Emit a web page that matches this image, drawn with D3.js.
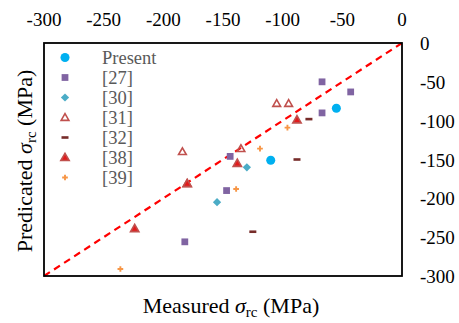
<!DOCTYPE html>
<html lang="en">
<head>
<meta charset="UTF-8">
<title>Measured vs predicted</title>
<script src="https://d3js.org/d3.v7.min.js"></script>
<style>
  body { margin: 0; background: #fff; }
  text { font-family: "Liberation Serif", "Times New Roman", serif; }
</style>
</head>
<body>
<svg id="chart" width="459" height="323"></svg>
<script>
// data: [measured, predicted] in MPa
const present = [[-55, -84], [-110, -151]];
const ref27 = [[-67, -50], [-43, -63], [-67, -90], [-144, -146], [-147, -190], [-182, -256]];
const ref30 = [[-130, -160], [-155, -205]];
const ref31 = [[-105, -78], [-95, -78], [-135, -136], [-184, -140], [-180, -181]];
const ref32 = [[-78, -98], [-88, -150], [-125, -243]];
const ref38 = [[-88, -99], [-138, -155], [-180, -181], [-224, -239]];
const ref39 = [[-96, -109], [-119, -136], [-139, -188], [-236, -291]];
const legendLabels = ["Present", "[27]", "[30]", "[31]", "[32]", "[38]", "[39]"];
const xTicks = [-300, -250, -200, -150, -100, -50, 0];
const yTicks = [0, -50, -100, -150, -200, -250, -300];

const svg = d3.select("#chart");
const plotLeft = 44, plotRight = 402, plotTop = 43, plotBottom = 276;

const x = d3.scaleLinear().domain([-300, 0]).range([plotLeft, plotRight]);
const y = d3.scaleLinear().domain([0, -300]).range([plotTop, plotBottom]);

// series styles
const series = [
  { data: present, kind: "circle", fill: "#00B0F0", stroke: "none" },
  { data: ref27, kind: "square", fill: "#8064A2", stroke: "none" },
  { data: ref30, kind: "diamond", fill: "#4BACC6", stroke: "none" },
  { data: ref31, kind: "triangle", fill: "none", stroke: "#C0504D" },
  { data: ref32, kind: "dash", fill: "#772C2A", stroke: "none" },
  { data: ref38, kind: "triangle", fill: "#E31A1C", stroke: "#C0504D" },
  { data: ref39, kind: "plus", fill: "#F79646", stroke: "none" }
];

function drawMarker(g, s) {
  if (s.kind === "dash") {
    g.append("rect").attr("x", -3.5).attr("y", -1.3).attr("width", 7).attr("height", 2.6)
      .attr("fill", s.fill);
    return;
  }
  let sym, rot = null;
  if (s.kind === "circle") sym = d3.symbol(d3.symbolCircle, 64);
  if (s.kind === "square") sym = d3.symbol(d3.symbolSquare, 46);
  if (s.kind === "diamond") { sym = d3.symbol(d3.symbolSquare, 34); rot = "rotate(45)"; }
  if (s.kind === "triangle") { sym = d3.symbol(d3.symbolTriangle, s.fill === "none" ? 26 : 30); rot = "translate(0,0.6)"; }
  if (s.kind === "plus") sym = d3.symbol(d3.symbolCross, 18);
  g.append("path").attr("d", sym())
    .attr("fill", s.fill)
    .attr("stroke", s.stroke)
    .attr("stroke-width", s.kind === "triangle" ? 1.6 : 0)
    .attr("transform", rot);
}

// 1:1 line
svg.append("line")
  .attr("x1", x(-300)).attr("y1", y(-300))
  .attr("x2", x(0)).attr("y2", y(0))
  .attr("stroke", "#FF0000").attr("stroke-width", 2.2)
  .attr("stroke-dasharray", "7,5");

// points
series.forEach(function (s) {
  s.data.forEach(function (d) {
    const g = svg.append("g").attr("transform", "translate(" + x(d[0]) + "," + y(d[1]) + ")");
    drawMarker(g, s);
  });
});

// frame
svg.append("rect")
  .attr("x", plotLeft).attr("y", plotTop)
  .attr("width", plotRight - plotLeft).attr("height", plotBottom - plotTop)
  .attr("fill", "none").attr("stroke", "#000").attr("stroke-width", 1.8);

// top tick labels
svg.selectAll(".xt").data(xTicks).enter().append("text")
  .attr("x", function (d) { return x(d); })
  .attr("y", 26)
  .attr("text-anchor", "middle")
  .attr("font-size", 19)
  .text(function (d) { return d; });

// right tick labels
svg.selectAll(".yt").data(yTicks).enter().append("text")
  .attr("x", 420)
  .attr("y", function (d) { return y(d) + 7; })
  .attr("font-size", 19)
  .text(function (d) { return d; });

// legend
const legend = svg.append("g");
legendLabels.forEach(function (lab, i) {
  const row = legend.append("g").attr("transform", "translate(65," + (57.5 + i * 20) + ")");
  drawMarker(row, series[i]);
  row.append("text").attr("x", 37).attr("y", 6)
    .attr("font-size", 18.5).attr("fill", "#595959").text(lab);
});

// axis titles
const xt = svg.append("text")
  .attr("x", 231).attr("y", 313)
  .attr("text-anchor", "middle")
  .attr("font-size", 22);
xt.append("tspan").text("Measured ");
xt.append("tspan").attr("font-style", "italic").text("σ");
xt.append("tspan").attr("font-size", 15).attr("dy", 4).text("rc");
xt.append("tspan").attr("dy", -4).text(" (MPa)");

const yt = svg.append("text")
  .attr("transform", "translate(32,161) rotate(-90)")
  .attr("text-anchor", "middle")
  .attr("font-size", 22);
yt.append("tspan").text("Predicated ");
yt.append("tspan").attr("font-style", "italic").text("σ");
yt.append("tspan").attr("font-size", 15).attr("dy", 4).text("rc");
yt.append("tspan").attr("dy", -4).text(" (MPa)");
</script>
</body>
</html>
